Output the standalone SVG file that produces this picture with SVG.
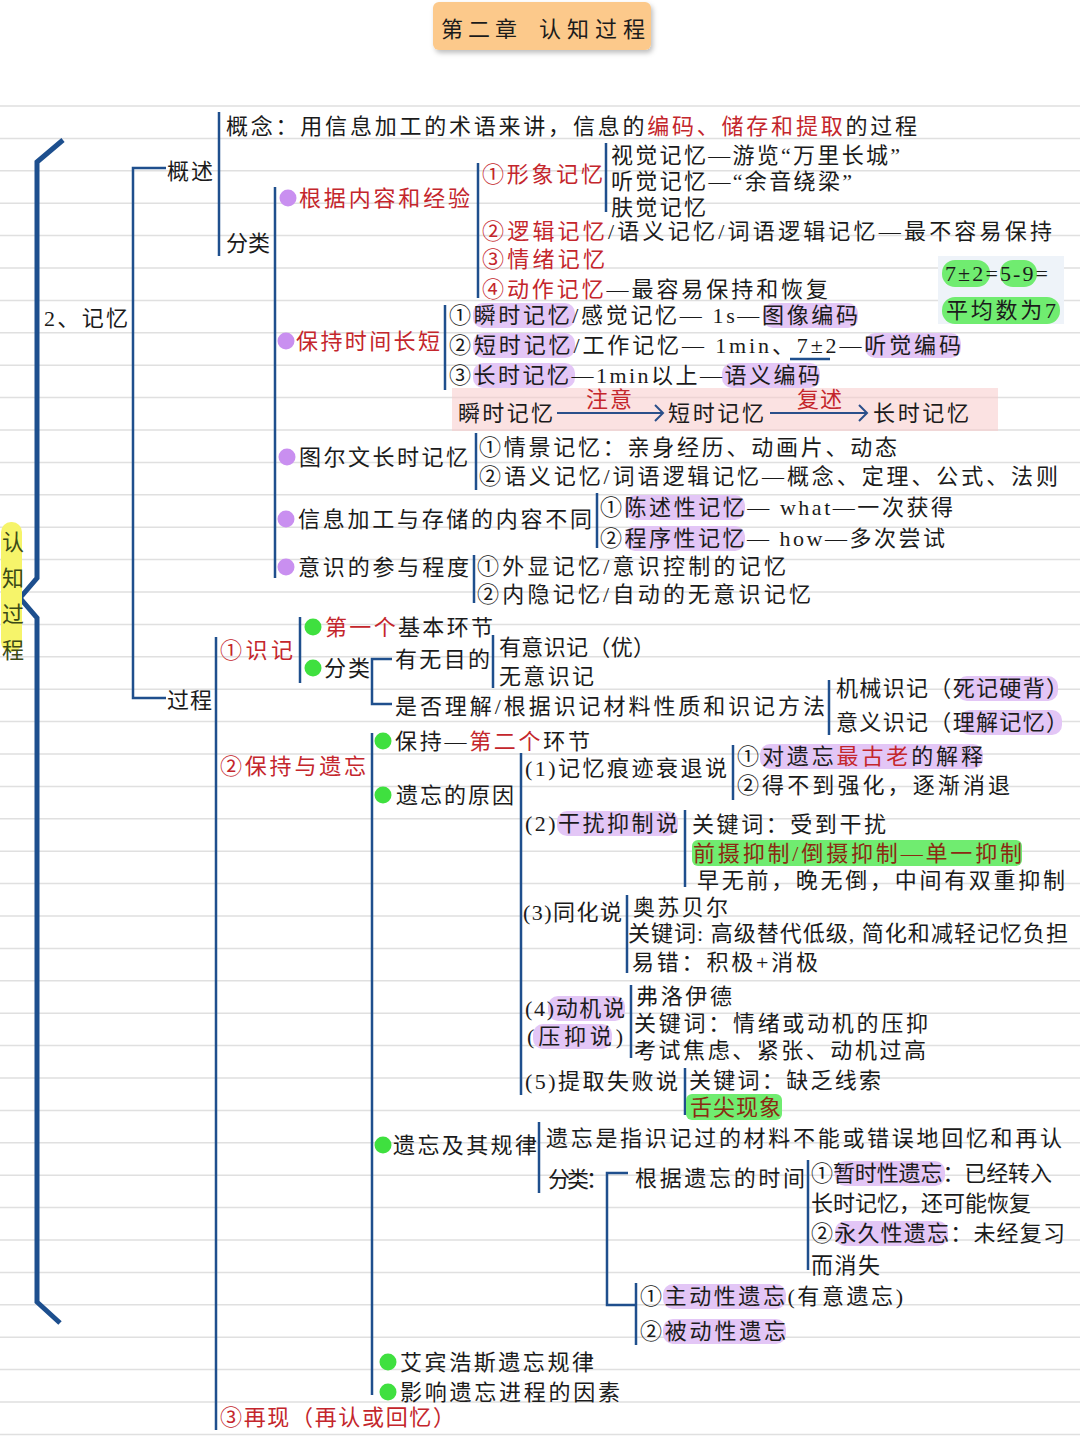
<svg xmlns="http://www.w3.org/2000/svg" width="1080" height="1440" viewBox="0 0 1080 1440">
<defs>
<style>
.t{font-family:"Liberation Serif","Noto Sans CJK SC",serif;font-size:22px;fill:#1b1b1b}
.r{fill:#c4262c}
.dr{fill:#8b2a12}
.ln{stroke:#1f4f8d;stroke-width:2.5;fill:none}
.big{stroke:#1d4f8e;stroke-width:5;fill:none;stroke-linejoin:miter}
.grid{stroke:#e0e0e0;stroke-width:1.5;fill:none}
.hp{fill:#e3c6f6}
.hg{fill:#70ec70}
.bp{fill:#c98ff0}
.bg{fill:#3fe03f}
.ar{stroke:#2a4f8a;stroke-width:2;fill:none}
</style>
<filter id="sh" x="-10%" y="-20%" width="130%" height="160%">
<feDropShadow dx="2" dy="3" stdDeviation="2.5" flood-color="#000" flood-opacity="0.25"/>
</filter>
</defs>
<rect width="1080" height="1440" fill="#ffffff"/>
<path class="grid" d="M0,106H1080M0,138.4H1080M0,170.8H1080M0,203.2H1080M0,235.6H1080M0,268H1080M0,300.4H1080M0,332.8H1080M0,365.2H1080M0,397.6H1080M0,430H1080M0,462.4H1080M0,494.8H1080M0,527.2H1080M0,559.6H1080M0,592H1080M0,624.4H1080M0,656.8H1080M0,689.2H1080M0,721.6H1080M0,754H1080M0,786.4H1080M0,818.8H1080M0,851.2H1080M0,883.6H1080M0,916H1080M0,948.4H1080M0,980.8H1080M0,1013.2H1080M0,1045.6H1080M0,1078H1080M0,1110.4H1080M0,1142.8H1080M0,1175.2H1080M0,1207.6H1080M0,1240H1080M0,1272.4H1080M0,1304.8H1080M0,1337.2H1080M0,1369.6H1080M0,1402H1080M0,1434.4H1080"/>

<g id="title">
<rect x="433" y="2" width="218" height="48" rx="6" fill="#fcc98b" filter="url(#sh)"/>
<text class="t" x="441" y="37" font-size="26" textLength="76">第二章</text>
<text class="t" x="539" y="37" font-size="26" textLength="106">认知过程</text>
</g>

<g id="connectors">
<path class="big" d="M63,140L37,162V578L20,598L37,618V1302L60,1323"/>
<path class="ln" d="M166,168H133V698H166"/>
<path class="ln" d="M219,112V256"/>
<path class="ln" d="M275,187V578"/>
<path class="ln" d="M478,163V298"/>
<path class="ln" d="M606,143V212"/>
<path class="ln" d="M445,305V390"/>
<path class="ln" d="M476,433V490"/>
<path class="ln" d="M597,493V548"/>
<path class="ln" d="M474,555V603"/>
<path class="ln" d="M216,637V1430"/>
<path class="ln" d="M300,617V683"/>
<path class="ln" d="M392,659H372V704H392"/>
<path class="ln" d="M493,635V688"/>
<path class="ln" d="M829,680V735"/>
<path class="ln" d="M372,733V1395"/>
<path class="ln" d="M521,753V1095"/>
<path class="ln" d="M733,745V800"/>
<path class="ln" d="M685,810V887"/>
<path class="ln" d="M627,895V973"/>
<path class="ln" d="M631,985V1058"/>
<path class="ln" d="M685,1068V1115"/>
<path class="ln" d="M539,1122V1193"/>
<path class="ln" d="M628,1173H607V1305H636"/>
<path class="ln" d="M808,1160V1270"/>
<path class="ln" d="M636,1283V1345"/>
</g>

<g id="root">
<rect x="1" y="522" width="21" height="130" rx="10" fill="#f6f46a"/>
<text class="t" x="2" y="550" font-size="20" style="fill:#3b4a17">认</text>
<text class="t" x="2" y="586" font-size="20" style="fill:#3b4a17">知</text>
<text class="t" x="2" y="622" font-size="20" style="fill:#3b4a17">过</text>
<text class="t" x="2" y="658" font-size="20" style="fill:#3b4a17">程</text>
</g>

<g id="memory"><text class="t" x="44" y="326" textLength="84">2、记忆</text></g>
<g id="overview"><text class="t" x="167" y="179" textLength="46">概述</text></g>
<g id="process"><text class="t" x="167" y="708" textLength="45">过程</text></g>

<g id="concept"><text class="t" x="226" y="134" textLength="691">概念：用信息加工的术语来讲，信息的<tspan class="r">编码、储存和提取</tspan>的过程</text></g>
<g id="classify"><text class="t" x="226" y="251" textLength="44">分类</text></g>

<g id="by-content">
<circle class="bp" cx="288" cy="198" r="8.5"/>
<text class="t r" x="299" y="206" textLength="171">根据内容和经验</text>
<text class="t r" x="482" y="182" textLength="121">①形象记忆</text>
<text class="t" x="611" y="163" textLength="289">视觉记忆—游览“万里长城”</text>
<text class="t" x="611" y="189" textLength="241">听觉记忆—“余音绕梁”</text>
<text class="t" x="611" y="215" textLength="95">肤觉记忆</text>
<text class="t" x="482" y="239" textLength="570"><tspan class="r">②逻辑记忆</tspan>/语义记忆/词语逻辑记忆—最不容易保持</text>
<text class="t r" x="482" y="267" textLength="123">③情绪记忆</text>
<text class="t" x="482" y="297" textLength="346"><tspan class="r">④动作记忆</tspan>—最容易保持和恢复</text>
</g>

<g id="note-7">
<rect x="938" y="256" width="126" height="68" fill="#eef3f9"/>
<rect class="hg" x="942" y="260" width="48" height="27" rx="13"/>
<rect class="hg" x="1000" y="260" width="37" height="27" rx="13"/>
<rect class="hg" x="942" y="297" width="118" height="27" rx="13"/>
<text class="t" x="945" y="281" textLength="103">7±2=5-9=</text>
<text class="t" x="946" y="318" textLength="110">平均数为7</text>
</g>

<g id="by-duration">
<circle class="bp" cx="286" cy="341" r="8.5"/>
<text class="t r" x="296" y="349" textLength="144">保持时间长短</text>
<rect class="hp" x="473" y="303" width="102" height="25" rx="10"/>
<rect class="hp" x="763" y="303" width="95" height="25" rx="10"/>
<rect class="hp" x="473" y="333" width="102" height="25" rx="10"/>
<rect class="hp" x="865" y="333" width="96" height="25" rx="10"/>
<rect class="hp" x="473" y="363" width="102" height="25" rx="10"/>
<rect class="hp" x="722" y="363" width="98" height="25" rx="10"/>
<text class="t" x="449" y="323" textLength="409">①瞬时记忆/感觉记忆— 1s—图像编码</text>
<text class="t" x="449" y="353" textLength="512">②短时记忆/工作记忆— 1min、7±2—听觉编码</text>
<path class="ln" d="M790,359H830"/>
<text class="t" x="449" y="383" textLength="371">③长时记忆—1min以上—语义编码</text>
</g>

<g id="flow">
<rect x="452" y="388" width="546" height="43" fill="#f7caca" fill-opacity="0.55"/>
<text class="t" x="458" y="421" textLength="95">瞬时记忆</text>
<text class="t" x="668" y="421" textLength="96">短时记忆</text>
<text class="t" x="873" y="421" textLength="96">长时记忆</text>
<text class="t r" x="586" y="407" font-size="20" textLength="46">注意</text>
<text class="t r" x="797" y="407" font-size="20" textLength="45">复述</text>
<path class="ar" d="M557,413H662M655,405L663,413L655,421"/>
<path class="ar" d="M770,413H866M859,405L867,413L859,421"/>
</g>

<g id="tulving">
<circle class="bp" cx="287" cy="457" r="8.5"/>
<text class="t" x="299" y="465" textLength="169">图尔文长时记忆</text>
<text class="t" x="479" y="455" textLength="418">①情景记忆：亲身经历、动画片、动态</text>
<text class="t" x="479" y="484" textLength="579">②语义记忆/词语逻辑记忆—概念、定理、公式、法则</text>
</g>

<g id="by-processing">
<circle class="bp" cx="286" cy="519" r="8.5"/>
<text class="t" x="298" y="527" textLength="294">信息加工与存储的内容不同</text>
<rect class="hp" x="625" y="495" width="120" height="25" rx="10"/>
<rect class="hp" x="625" y="526" width="120" height="25" rx="10"/>
<text class="t" x="600" y="515" textLength="353">①陈述性记忆— what—一次获得</text>
<text class="t" x="600" y="546" textLength="345">②程序性记忆— how—多次尝试</text>
</g>

<g id="by-awareness">
<circle class="bp" cx="286" cy="567" r="8.5"/>
<text class="t" x="298" y="575" textLength="171">意识的参与程度</text>
<text class="t" x="477" y="574" textLength="309">①外显记忆/意识控制的记忆</text>
<text class="t" x="477" y="602" textLength="334">②内隐记忆/自动的无意识记忆</text>
</g>

<g id="encoding">
<text class="t r" x="220" y="658" textLength="73">①识记</text>
<circle class="bg" cx="313" cy="627" r="8.5"/>
<text class="t" x="325" y="635" textLength="168"><tspan class="r">第一个</tspan>基本环节</text>
<circle class="bg" cx="313" cy="668" r="8.5"/>
<text class="t" x="324" y="676" textLength="46">分类</text>
<text class="t" x="395" y="667" textLength="95">有无目的</text>
<text class="t" x="395" y="714" textLength="430">是否理解/根据识记材料性质和识记方法</text>
<text class="t" x="499" y="655" textLength="156">有意识记（优）</text>
<text class="t" x="499" y="684" textLength="95">无意识记</text>
<rect class="hp" x="957" y="676" width="101" height="25" rx="10"/>
<rect class="hp" x="960" y="710" width="102" height="25" rx="10"/>
<text class="t" x="836" y="696" textLength="232">机械识记（死记硬背）</text>
<text class="t" x="836" y="730" textLength="232">意义识记（理解记忆）</text>
</g>

<g id="retention">
<text class="t r" x="220" y="774" textLength="146">②保持与遗忘</text>
<circle class="bg" cx="383" cy="741" r="8.5"/>
<text class="t" x="395" y="749" textLength="195">保持—<tspan class="r">第二个</tspan>环节</text>
<circle class="bg" cx="383" cy="795" r="8.5"/>
<text class="t" x="396" y="803" textLength="118">遗忘的原因</text>
</g>

<g id="causes">
<text class="t" x="525" y="776" textLength="202">(1)记忆痕迹衰退说</text>
<rect class="hp" x="760" y="744" width="223" height="25" rx="10"/>
<text class="t" x="737" y="764" textLength="246">①对遗忘<tspan class="r">最古老</tspan>的解释</text>
<text class="t" x="737" y="793" textLength="273">②得不到强化，逐渐消退</text>
<rect class="hp" x="557" y="811" width="121" height="25" rx="10"/>
<text class="t" x="525" y="831" textLength="153">(2)干扰抑制说</text>
<text class="t" x="692" y="832" textLength="194">关键词：受到干扰</text>
<rect class="hg" x="692" y="840" width="330" height="26" rx="6"/>
<text class="t dr" x="693" y="861" textLength="329">前摄抑制/倒摄抑制—单一抑制</text>
<text class="t" x="697" y="888" textLength="368">早无前，晚无倒，中间有双重抑制</text>
<text class="t" x="523" y="920" textLength="99">(3)同化说</text>
<text class="t" x="633" y="915" textLength="95">奥苏贝尔</text>
<text class="t" x="628" y="941" textLength="440">关键词: 高级替代低级, 简化和减轻记忆负担</text>
<text class="t" x="632" y="970" textLength="186">易错：积极+消极</text>
<rect class="hp" x="548" y="996" width="77" height="25" rx="10"/>
<rect class="hp" x="533" y="1024" width="79" height="25" rx="10"/>
<text class="t" x="525" y="1016" textLength="100">(4)动机说</text>
<text class="t" x="527" y="1044" textLength="96">(压抑说)</text>
<text class="t" x="636" y="1004" textLength="96">弗洛伊德</text>
<text class="t" x="634" y="1031" textLength="294">关键词：情绪或动机的压抑</text>
<text class="t" x="634" y="1058" textLength="292">考试焦虑、紧张、动机过高</text>
<text class="t" x="525" y="1089" textLength="153">(5)提取失败说</text>
<text class="t" x="689" y="1088" textLength="192">关键词：缺乏线索</text>
<rect class="hg" x="686" y="1094" width="96" height="26" rx="6"/>
<text class="t dr" x="690" y="1115" textLength="91">舌尖现象</text>
</g>

<g id="forgetting">
<circle class="bg" cx="383" cy="1145" r="8.5"/>
<text class="t" x="393" y="1153" textLength="144">遗忘及其规律</text>
<text class="t" x="546" y="1146" textLength="516">遗忘是指识记过的材料不能或错误地回忆和再认</text>
<text class="t" x="548" y="1187" textLength="60">分类：</text>
<text class="t" x="635" y="1186" textLength="170">根据遗忘的时间</text>
<rect class="hp" x="835" y="1161" width="110" height="25" rx="10"/>
<rect class="hp" x="835" y="1221" width="113" height="25" rx="10"/>
<text class="t" x="811" y="1181" textLength="241">①暂时性遗忘：已经转入</text>
<text class="t" x="811" y="1211" textLength="220">长时记忆，还可能恢复</text>
<text class="t" x="811" y="1241" textLength="254">②永久性遗忘：未经复习</text>
<text class="t" x="811" y="1273" textLength="69">而消失</text>
<rect class="hp" x="663" y="1284" width="123" height="25" rx="10"/>
<rect class="hp" x="663" y="1319" width="123" height="25" rx="10"/>
<text class="t" x="640" y="1304" textLength="263">①主动性遗忘(有意遗忘)</text>
<text class="t" x="640" y="1339" textLength="146">②被动性遗忘</text>
</g>

<g id="ebbinghaus">
<circle class="bg" cx="388" cy="1362" r="8.5"/>
<text class="t" x="400" y="1370" textLength="194">艾宾浩斯遗忘规律</text>
</g>
<g id="factors">
<circle class="bg" cx="388" cy="1392" r="8.5"/>
<text class="t" x="400" y="1400" textLength="220">影响遗忘进程的因素</text>
</g>
<g id="recall">
<text class="t r" x="220" y="1425" textLength="235">③再现（再认或回忆）</text>
</g>
</svg>
